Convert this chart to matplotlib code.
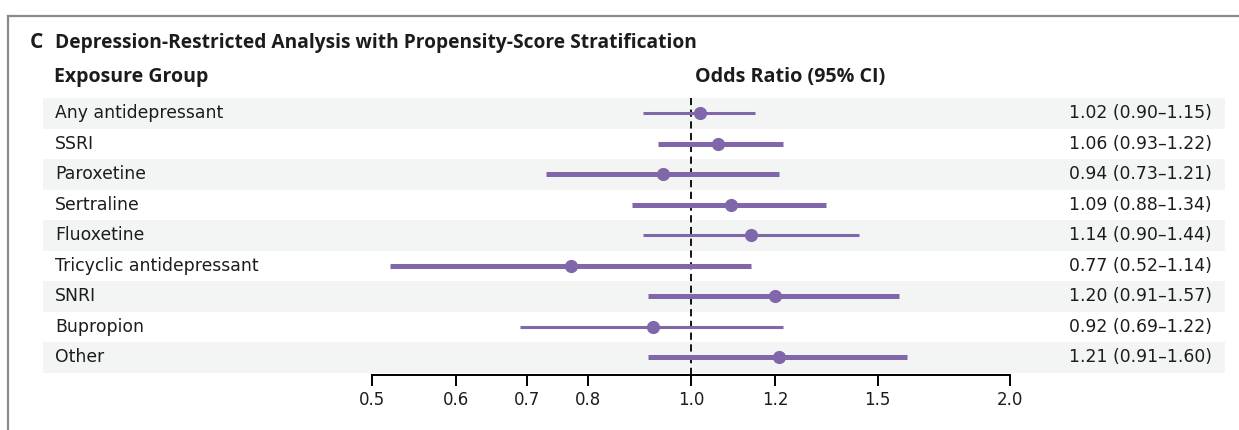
import matplotlib
matplotlib.use("Agg")
import matplotlib.pyplot as plt
from matplotlib.lines import Line2D
from matplotlib.ticker import FixedLocator, NullLocator
import matplotlib.transforms as mtransforms

plt.rcParams['font.family'] = ['DejaVu Sans']

groups = ["Any antidepressant", "SSRI", "Paroxetine", "Sertraline", "Fluoxetine",
          "Tricyclic antidepressant", "SNRI", "Bupropion", "Other"]
odds = [1.02, 1.06, 0.94, 1.09, 1.14, 0.77, 1.20, 0.92, 1.21]
ci_low = [0.90, 0.93, 0.73, 0.88, 0.90, 0.52, 0.91, 0.69, 0.91]
ci_high = [1.15, 1.22, 1.21, 1.34, 1.44, 1.14, 1.57, 1.22, 1.60]
heavy = [False, True, True, True, False, True, True, False, True]
ticks = [0.5, 0.6, 0.7, 0.8, 1.0, 1.2, 1.5, 2.0]

purple = "#8067aa"
band = "#f3f5f5"
ink = "#1c1c1c"
head_font = ['Open Sans', 'DejaVu Sans']
W, H = 1239, 430

fig = plt.figure(figsize=(W / 100, H / 100), dpi=100)

# axes placed in pixels
x0, x1 = 372, 1010
ytop, ybot = 98, 374.5
row_h = 30.5
ax = fig.add_axes([x0 / W, 1 - ybot / H, (x1 - x0) / W, (ybot - ytop) / H])
ax.set_xscale("log")
ax.set_xlim(0.5, 2.0)
n = len(groups)
ax.set_ylim(-0.5 + (ybot - ytop) / row_h, -0.5)

# panel frame
fig.add_artist(Line2D([8 / W, 1], [1 - 16 / H, 1 - 16 / H], color="#8a8a8a", lw=1.6))
fig.add_artist(Line2D([8 / W, 8 / W], [0, 1 - 16 / H], color="#8a8a8a", lw=1.6))

fig.text(30 / W, 1 - 43 / H, "C", fontsize=15, fontweight="bold", va="center", ha="left",
         family=head_font, color=ink)
fig.text(55 / W, 1 - 43 / H, "Depression-Restricted Analysis with Propensity-Score Stratification",
         fontsize=13.8, fontweight="bold", va="center", ha="left", family=head_font, color=ink)
fig.text(54 / W, 1 - 77 / H, "Exposure Group", fontsize=14, fontweight="bold",
         va="center", ha="left", family=head_font, color=ink)
fig.text(695 / W, 1 - 77 / H, "Odds Ratio (95% CI)", fontsize=14.2, fontweight="bold",
         va="center", ha="left", family=head_font, color=ink)

span = x1 - x0
trans = mtransforms.blended_transform_factory(ax.transAxes, ax.transData)
for i in range(n):
    if i % 2 == 0:
        ax.axhspan(i - 0.5, i + 0.5, xmin=(43 - x0) / span, xmax=(1225 - x0) / span,
                   color=band, lw=0, clip_on=False, zorder=0)
    ax.text((55 - x0) / span, i, groups[i], transform=trans, fontsize=12.4,
            va="center", ha="left", color=ink)
    ax.text((1212 - x0) / span, i,
            f"{odds[i]:.2f} ({ci_low[i]:.2f}\u2013{ci_high[i]:.2f})",
            transform=trans, fontsize=12.4, va="center", ha="right", color=ink)
    ax.plot([ci_low[i], ci_high[i]], [i, i], color=purple,
            lw=3.6 if heavy[i] else 2.2, solid_capstyle="butt", zorder=3)
    ax.plot(odds[i], i, "o", color=purple, ms=9.5, mew=0, zorder=4)

ax.axvline(1.0, color="black", lw=1.3, ls=(0, (4, 2.5)), zorder=2)

for s in ["top", "right", "left"]:
    ax.spines[s].set_visible(False)
ax.spines["bottom"].set_linewidth(1.4)
ax.patch.set_visible(False)
ax.yaxis.set_major_locator(NullLocator())
ax.xaxis.set_major_locator(FixedLocator(ticks))
ax.xaxis.set_minor_locator(NullLocator())
ax.set_xticklabels([f"{t:.1f}" for t in ticks])
ax.tick_params(axis="x", direction="out", length=8, width=1.4, pad=4, labelsize=12,
               labelcolor=ink)

fig.savefig("out.png", dpi=100)
